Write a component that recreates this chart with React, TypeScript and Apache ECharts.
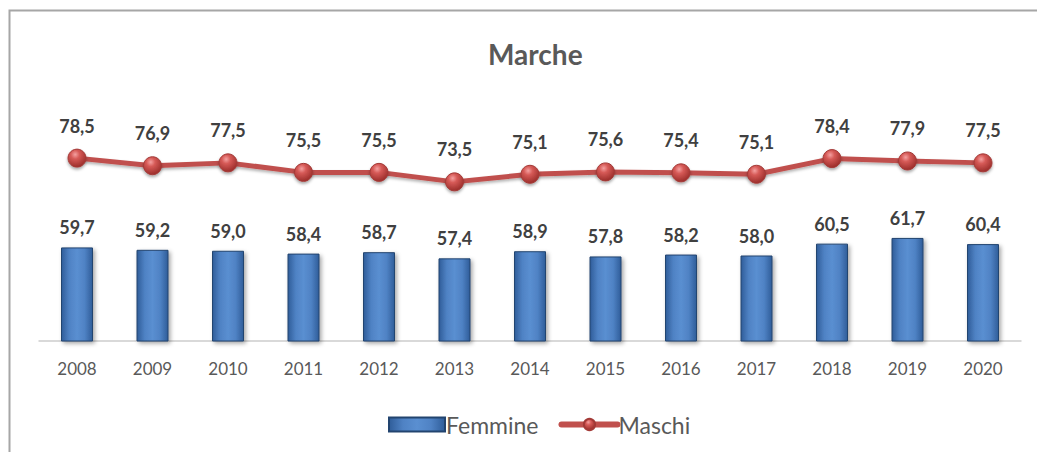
import React, { useEffect, useRef } from "react";
import * as echarts from "echarts";

const years = ["2008","2009","2010","2011","2012","2013","2014","2015","2016","2017","2018","2019","2020"];
const femmine = [59.7, 59.2, 59.0, 58.4, 58.7, 57.4, 58.9, 57.8, 58.2, 58.0, 60.5, 61.7, 60.4];
const maschi = [78.5, 76.9, 77.5, 75.5, 75.5, 73.5, 75.1, 75.6, 75.4, 75.1, 78.4, 77.9, 77.5];

const FONT = "Lato, 'Open Sans', sans-serif";
const fmt = (v: number) => v.toFixed(1).replace(".", ",");

export default function App() {
  const ref = useRef<HTMLDivElement>(null);
  useEffect(() => {
    if (!ref.current) return;
    const chart = echarts.init(ref.current, undefined, { renderer: "svg" });
    const barColor = new echarts.graphic.LinearGradient(0, 0, 1, 0, [
      { offset: 0, color: "#2f5d99" },
      { offset: 0.25, color: "#4f82c4" },
      { offset: 0.5, color: "#5a8fd1" },
      { offset: 0.75, color: "#4f82c4" },
      { offset: 1, color: "#2f5d99" },
    ]);
    const dotColor = new echarts.graphic.RadialGradient(0.4, 0.3, 0.7, [
      { offset: 0, color: "#f4a0a0" },
      { offset: 0.35, color: "#d65a57" },
      { offset: 1, color: "#9c2e2b" },
    ]);
    chart.setOption({
      animation: false,
      backgroundColor: "#ffffff",
      title: {
        text: "Marche",
        left: 483,
        top: 35,
        textStyle: { fontFamily: FONT, fontSize: 28, fontWeight: "bold", color: "#595959" },
      },
      graphic: [
        {
          type: "rect",
          shape: { x: 9.5, y: 10.5, width: 1200, height: 600 },
          style: { fill: "none", stroke: "#a6a6a6", lineWidth: 2 },
          silent: true,
        },
      ],
      legend: {
        top: 408,
        left: 383,
        itemGap: 20,
        itemWidth: 56,
        itemHeight: 14,
        textStyle: { fontFamily: FONT, fontSize: 23, color: "#595959", padding: [0, 0, 0, -4] },
        data: [
          { name: "Femmine", icon: "rect" },
          { name: "Maschi", lineStyle: { width: 6, cap: "round", color: "#c0504d" } },
        ],
      },
      grid: { left: 39.25, right: 16.25, top: 103.5, bottom: 111, containLabel: false },
      xAxis: {
        type: "category",
        data: years,
        axisLine: { show: true, lineStyle: { color: "#d9d9d9", width: 2 } },
        axisTick: { show: false },
        axisLabel: { fontFamily: FONT, fontSize: 17, color: "#595959", margin: 19 },
      },
      yAxis: {
        type: "value",
        min: 40,
        max: 90,
        show: false,
        splitLine: { show: false },
      },
      series: [
        {
          name: "Femmine",
          type: "bar",
          data: femmine,
          barWidth: 32,
          itemStyle: {
            color: barColor,
            borderColor: "#22446f",
            borderWidth: 1,
            shadowColor: "rgba(0,0,0,0.35)",
            shadowBlur: 4,
            shadowOffsetX: 2,
            shadowOffsetY: 2,
          },
          label: {
            show: true,
            position: "top",
            distance: 11,
            formatter: (p: any) => fmt(p.value),
            fontFamily: FONT,
            fontSize: 18,
            fontWeight: "bold",
            color: "#404040",
          },
        },
        {
          name: "Maschi",
          type: "line",
          data: maschi,
          symbol: "circle",
          symbolSize: 18,
          lineStyle: {
            color: "#c0504d",
            width: 5,
            shadowColor: "rgba(0,0,0,0.3)",
            shadowBlur: 3,
            shadowOffsetY: 2,
          },
          itemStyle: {
            color: dotColor,
            borderColor: "#a33a37",
            borderWidth: 1,
            shadowColor: "rgba(0,0,0,0.35)",
            shadowBlur: 3,
            shadowOffsetY: 2,
          },
          label: {
            show: true,
            position: "top",
            distance: 14,
            formatter: (p: any) => fmt(p.value),
            fontFamily: FONT,
            fontSize: 18,
            fontWeight: "bold",
            color: "#404040",
          },
        },
      ],
    });
    return () => chart.dispose();
  }, []);
  return (
    <div
      ref={ref}
      style={{ position: "absolute", left: 0, top: 0, width: 1037, height: 452 }}
    />
  );
}
